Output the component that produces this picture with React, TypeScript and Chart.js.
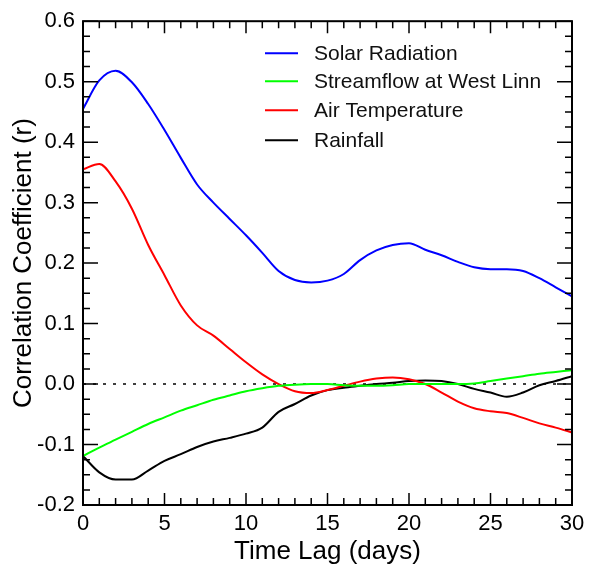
import React, { useEffect, useRef } from "react";
import { Chart, registerables } from "chart.js";

Chart.register(...registerables);

const days = [0,1,2,3,4,5,6,7,8,9,10,11,12,13,14,15,16,17,18,19,20,21,22,23,24,25,26,27,28,29,30];

const solarRadiation = [0.455,0.502,0.518,0.499,0.463,0.420,0.374,0.330,0.300,0.273,0.246,0.217,0.187,0.172,0.168,0.171,0.182,0.205,0.221,0.230,0.233,0.222,0.213,0.202,0.193,0.190,0.190,0.187,0.175,0.160,0.145];
const streamflow = [-0.119,-0.105,-0.092,-0.079,-0.066,-0.055,-0.044,-0.035,-0.026,-0.019,-0.012,-0.007,-0.003,-0.001,0,0,-0.002,-0.003,-0.003,-0.002,0,0,0,0,0.001,0.005,0.009,0.013,0.017,0.020,0.023];
const airTemperature = [0.355,0.364,0.335,0.290,0.230,0.180,0.130,0.097,0.080,0.058,0.036,0.016,0.000,-0.012,-0.015,-0.010,-0.003,0.004,0.009,0.011,0.008,0.000,-0.014,-0.029,-0.040,-0.045,-0.048,-0.056,-0.065,-0.072,-0.080];
const rainfall = [-0.119,-0.146,-0.158,-0.158,-0.143,-0.127,-0.116,-0.104,-0.095,-0.089,-0.082,-0.072,-0.046,-0.033,-0.019,-0.010,-0.006,-0.003,0.000,0.002,0.005,0.006,0.005,0.000,-0.008,-0.014,-0.021,-0.014,-0.002,0.005,0.013];

const seriesNames = ["Solar Radiation", "Streamflow at West Linn", "Air Temperature", "Rainfall"];
const seriesColors = ["#0000ff", "#00ff00", "#ff0000", "#000000"];

const xTickValues = [0, 5, 10, 15, 20, 25, 30];
const yTickValues = [-0.2, -0.1, 0.0, 0.1, 0.2, 0.3, 0.4, 0.5, 0.6];

const FONT = "'Liberation Sans', Arial, Helvetica, sans-serif";

const framePlugin = {
  id: "frameTicks",
  beforeDatasetsDraw(chart: any) {
    const { ctx, chartArea, scales } = chart;
    const y0 = scales.y.getPixelForValue(0);
    ctx.save();
    ctx.strokeStyle = "#000";
    ctx.lineWidth = 1.5;
    ctx.setLineDash([3, 7]);
    ctx.beginPath();
    ctx.moveTo(chartArea.left, y0);
    ctx.lineTo(chartArea.right, y0);
    ctx.stroke();
    ctx.restore();
  },
  afterDraw(chart: any) {
    const { ctx, chartArea, scales } = chart;
    const { left, right, top, bottom } = chartArea;
    ctx.save();
    ctx.strokeStyle = "#000";
    ctx.lineWidth = 2;
    ctx.strokeRect(left, top, right - left, bottom - top);
    ctx.lineWidth = 1.5;
    ctx.beginPath();
    for (let d = 0; d <= 30; d++) {
      const px = scales.x.getPixelForValue(d);
      const len = d % 5 === 0 ? 12 : 7;
      ctx.moveTo(px, bottom);
      ctx.lineTo(px, bottom - len);
      ctx.moveTo(px, top);
      ctx.lineTo(px, top + len);
    }
    for (let i = 0; i <= 32; i++) {
      const v = -0.2 + i * 0.025;
      const py = scales.y.getPixelForValue(v);
      const len = i % 4 === 0 ? 15 : 7;
      ctx.moveTo(left, py);
      ctx.lineTo(left + len, py);
      ctx.moveTo(right, py);
      ctx.lineTo(right - len, py);
    }
    ctx.stroke();

    // legend
    const rows = [32, 60, 89, 119];
    ctx.font = `21px ${FONT}`;
    ctx.textBaseline = "middle";
    ctx.textAlign = "left";
    chart.data.datasets.forEach((ds: any, i: number) => {
      const y = top + rows[i];
      ctx.strokeStyle = ds.borderColor;
      ctx.lineWidth = 2;
      ctx.beginPath();
      ctx.moveTo(265, y);
      ctx.lineTo(298, y);
      ctx.stroke();
      ctx.fillStyle = "#111";
      ctx.fillText(ds.label, 314, y + 1);
    });
    ctx.restore();
  },
};

export default function App() {
  const ref = useRef<HTMLCanvasElement | null>(null);
  useEffect(() => {
    if (!ref.current) return;
    const all = [solarRadiation, streamflow, airTemperature, rainfall];
    const chart = new Chart(ref.current, {
      type: "line",
      data: {
        datasets: all.map((vals, i) => ({
          label: seriesNames[i],
          data: days.map((d, j) => ({ x: d, y: vals[j] })),
          borderColor: seriesColors[i],
          borderWidth: 2,
          pointRadius: 0,
          fill: false,
          cubicInterpolationMode: "monotone" as const,
        })),
      },
      options: {
        responsive: false,
        animation: false,
        devicePixelRatio: 1,
        layout: { padding: { left: 0, top: 17, right: 21, bottom: 0 } },
        plugins: { legend: { display: false }, tooltip: { enabled: false } },
        scales: {
          x: {
            type: "linear",
            min: 0,
            max: 30,
            afterFit: (s: any) => { s.height = 64; },
            afterBuildTicks: (s: any) => { s.ticks = xTickValues.map((v) => ({ value: v })); },
            grid: { display: false, drawTicks: false },
            border: { display: false },
            ticks: { color: "#000", padding: 6, font: { size: 22, family: FONT }, maxRotation: 0, callback: (v: any) => String(v) },
            title: { display: true, text: "Time Lag (days)", color: "#000", font: { size: 26, family: FONT }, padding: { top: 0, bottom: 2 } },
          },
          y: {
            type: "linear",
            min: -0.2,
            max: 0.6,
            afterFit: (s: any) => { s.width = 83; },
            afterBuildTicks: (s: any) => { s.ticks = yTickValues.map((v) => ({ value: v })); },
            grid: { display: false, drawTicks: false },
            border: { display: false },
            ticks: { color: "#000", padding: 8, font: { size: 22, family: FONT }, callback: (v: any) => Number(v).toFixed(1) },
            title: { display: true, text: "Correlation Coefficient (r)", color: "#000", font: { size: 26, family: FONT }, padding: { top: 8, bottom: 0 } },
          },
        },
      },
      plugins: [framePlugin],
    });
    return () => chart.destroy();
  }, []);
  return (
    <div style={{ position: "absolute", left: 0, top: 0, width: 593, height: 569, background: "#fff" }}>
      <canvas ref={ref} width={593} height={569} style={{ width: 593, height: 569, display: "block" }} />
    </div>
  );
}
